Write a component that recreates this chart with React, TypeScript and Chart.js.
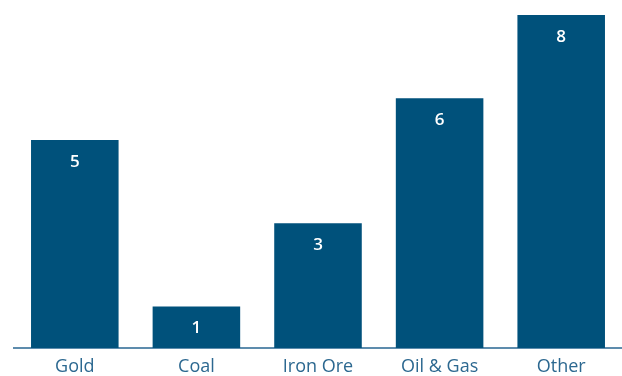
import React, { useEffect, useRef } from "react";
import { Chart, registerables } from "chart.js";

Chart.register(...registerables);

const categories = ["Gold", "Coal", "Iron Ore", "Oil & Gas", "Other"];
const values = [5, 1, 3, 6, 8];
const yMax = 8;

const barColor = "#00517b";
const axisColor = "#5d8cad";
const tickColor = "#2c6890";
const fontFamily = "'Open Sans', sans-serif";

const valueLabels = {
  id: "valueLabels",
  afterDatasetsDraw(chart: any) {
    const ctx = chart.ctx;
    const meta = chart.getDatasetMeta(0);
    ctx.save();
    ctx.fillStyle = "#ffffff";
    ctx.font = "600 17px " + fontFamily;
    ctx.textAlign = "center";
    ctx.textBaseline = "middle";
    meta.data.forEach((bar: any, i: number) => {
      ctx.fillText(String(values[i]), bar.x, bar.y + 22);
    });
    ctx.restore();
  },
};

export default function App() {
  const ref = useRef<HTMLCanvasElement>(null);
  useEffect(() => {
    if (!ref.current) return;
    const chart = new Chart(ref.current, {
      type: "bar",
      data: {
        labels: categories,
        datasets: [
          {
            data: values,
            backgroundColor: barColor,
            borderWidth: 0,
          },
        ],
      },
      options: {
        responsive: false,
        animation: false,
        layout: { padding: { left: 14, top: 15, right: 0, bottom: 0 } },
        plugins: { legend: { display: false }, tooltip: { enabled: false } },
        scales: {
          x: {
            grid: { display: false, drawTicks: false },
            border: { display: true, color: axisColor, width: 2 },
            ticks: {
              color: tickColor,
              padding: 8,
              font: { size: 18, family: fontFamily },
            },
            afterFit: (s: any) => {
              s.height = 28;
            },
          },
          y: { display: false, min: 0, max: yMax },
        },
      },
      plugins: [valueLabels],
    });
    return () => chart.destroy();
  }, []);
  return (
    <div style={{ position: "absolute", left: 0, top: 0, width: 622, height: 376, background: "#fff" }}>
      <canvas ref={ref} width={622} height={376} />
    </div>
  );
}
